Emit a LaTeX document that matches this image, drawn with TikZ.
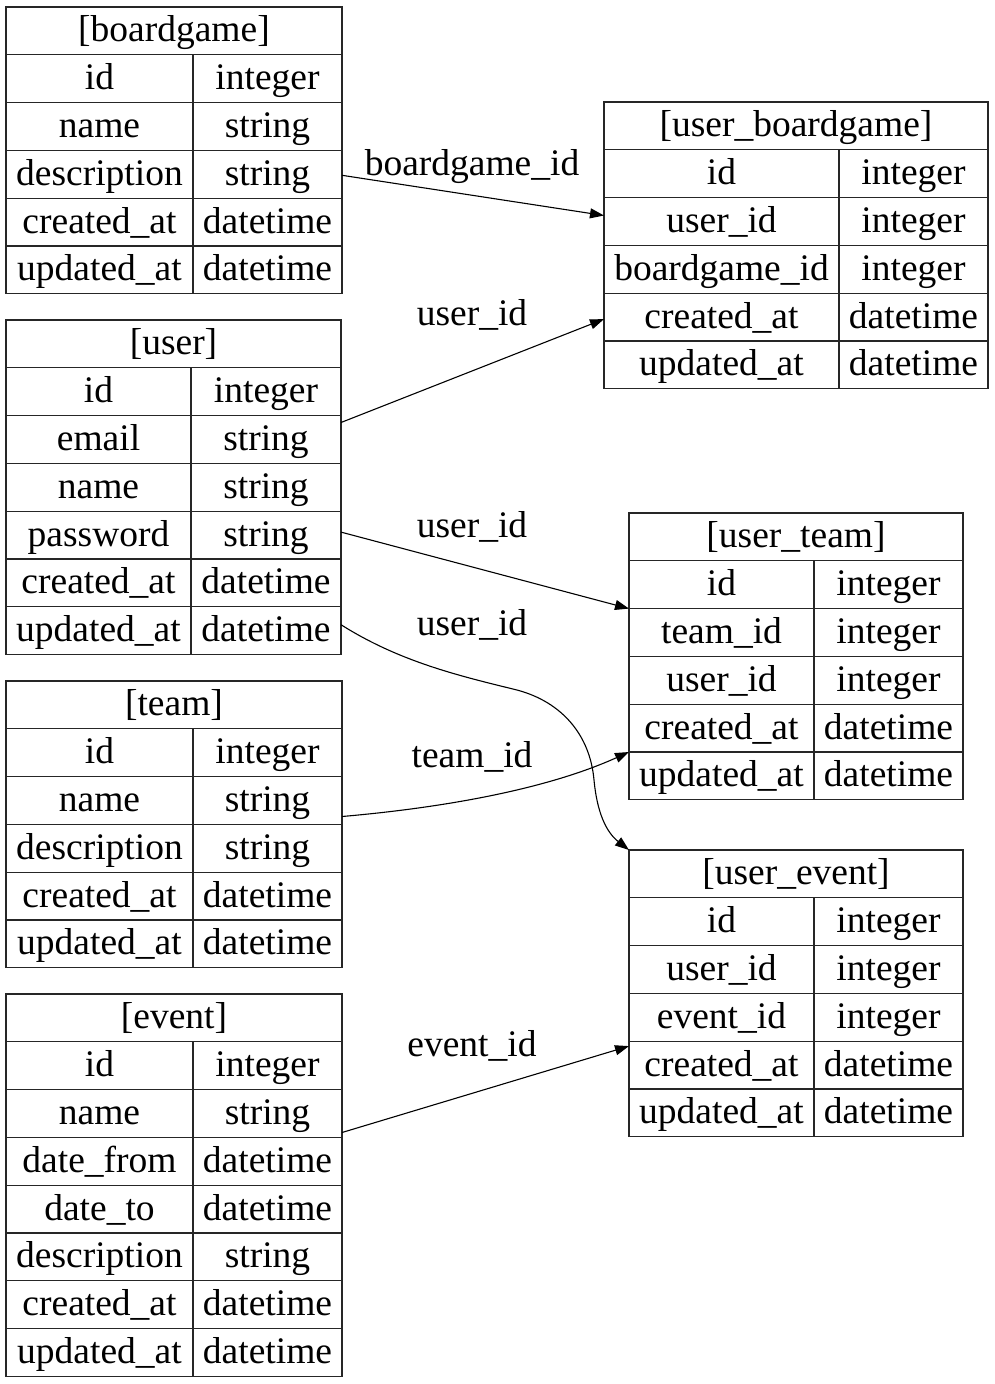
\documentclass[tikz,border=0pt]{standalone}
\usepackage{fontspec}
\setmainfont{Liberation Serif}
\usetikzlibrary{arrows.meta}
\tikzset{
  cell/.style={draw=black!85, line width=1.2pt, inner sep=0pt, outer sep=0pt, minimum height=47.8pt,
    text height=28pt, text depth=6pt, align=center, font=\fontsize{37.5}{44}\selectfont},
  elabel/.style={inner sep=0pt, anchor=base, font=\fontsize{37.5}{44}\selectfont},
  rel/.style={line width=1.1pt, -{Triangle[length=14pt,width=10pt]}}
}
\newcommand\ertbl[7]{%
  \node[cell, minimum width={#4-#2}, anchor=north west] (#1-h) at (#2,#5) {#6};
  \foreach \a/\b [count=\i] in {#7} {
    \node[cell, minimum width={#3-#2}, anchor=north west] (#1-a\i) at (#2,{#5+47.8*\i}) {\a};
    \node[cell, minimum width={#4-#3}, anchor=north west] (#1-b\i) at (#3,{#5+47.8*\i}) {\b};
  }%
}
\begin{document}
\begin{tikzpicture}[x=1pt,y=-1pt]
\useasboundingbox (0,0) rectangle (994,1384);
\ertbl{bg}{6}{193}{342}{7}{[boardgame]}{id/integer,name/string,description/string,created\_at/datetime,updated\_at/datetime}
\ertbl{us}{6}{191}{341}{320}{[user]}{id/integer,email/string,name/string,password/string,created\_at/datetime,updated\_at/datetime}
\ertbl{tm}{6}{193}{342}{681}{[team]}{id/integer,name/string,description/string,created\_at/datetime,updated\_at/datetime}
\ertbl{ev}{6}{193}{342}{994}{[event]}{id/integer,name/string,date\_from/datetime,date\_to/datetime,description/string,created\_at/datetime,updated\_at/datetime}
\ertbl{ub}{604}{839}{988}{102}{[user\_boardgame]}{id/integer,user\_id/integer,boardgame\_id/integer,created\_at/datetime,updated\_at/datetime}
\ertbl{ut}{629}{814}{963}{513}{[user\_team]}{id/integer,team\_id/integer,user\_id/integer,created\_at/datetime,updated\_at/datetime}
\ertbl{ue}{629}{814}{963}{850}{[user\_event]}{id/integer,user\_id/integer,event\_id/integer,created\_at/datetime,updated\_at/datetime}

\node[elabel] (l1) at (472,175) {boardgame\_id};
\node[elabel] (l2) at (472,325) {user\_id};
\node[elabel] (l3) at (472,537) {user\_id};
\node[elabel] (l4) at (472,635) {user\_id};
\node[elabel] (l5) at (472,767) {team\_id};
\node[elabel] (l6) at (472,1056) {event\_id};

\draw[rel] ([yshift=-1pt]bg-b3.east) -- ([yshift=6pt]ub-a2.west);
\draw[rel] ([yshift=17pt]us-b2.east) -- ([yshift=-2pt]ub-a4.west);
\draw[rel] ([yshift=3pt]us-b4.east) -- (ut-a2.north west);
\draw[rel] ([yshift=6pt]us-b6.east) .. controls (400,662) and (460,676) .. (517,690)
  .. controls (562,702) and (590,735) .. (594,780)
  .. controls (597,812) and (606,832) .. (ue-h.north west);
\draw[rel] ([yshift=-16pt]tm-b2.east) .. controls (440,808) and (545,790) .. (ut-a5.north west);
\draw[rel] ([yshift=-19pt]ev-b2.east) -- ([yshift=19pt]ue-a4.west);
\end{tikzpicture}
\end{document}
